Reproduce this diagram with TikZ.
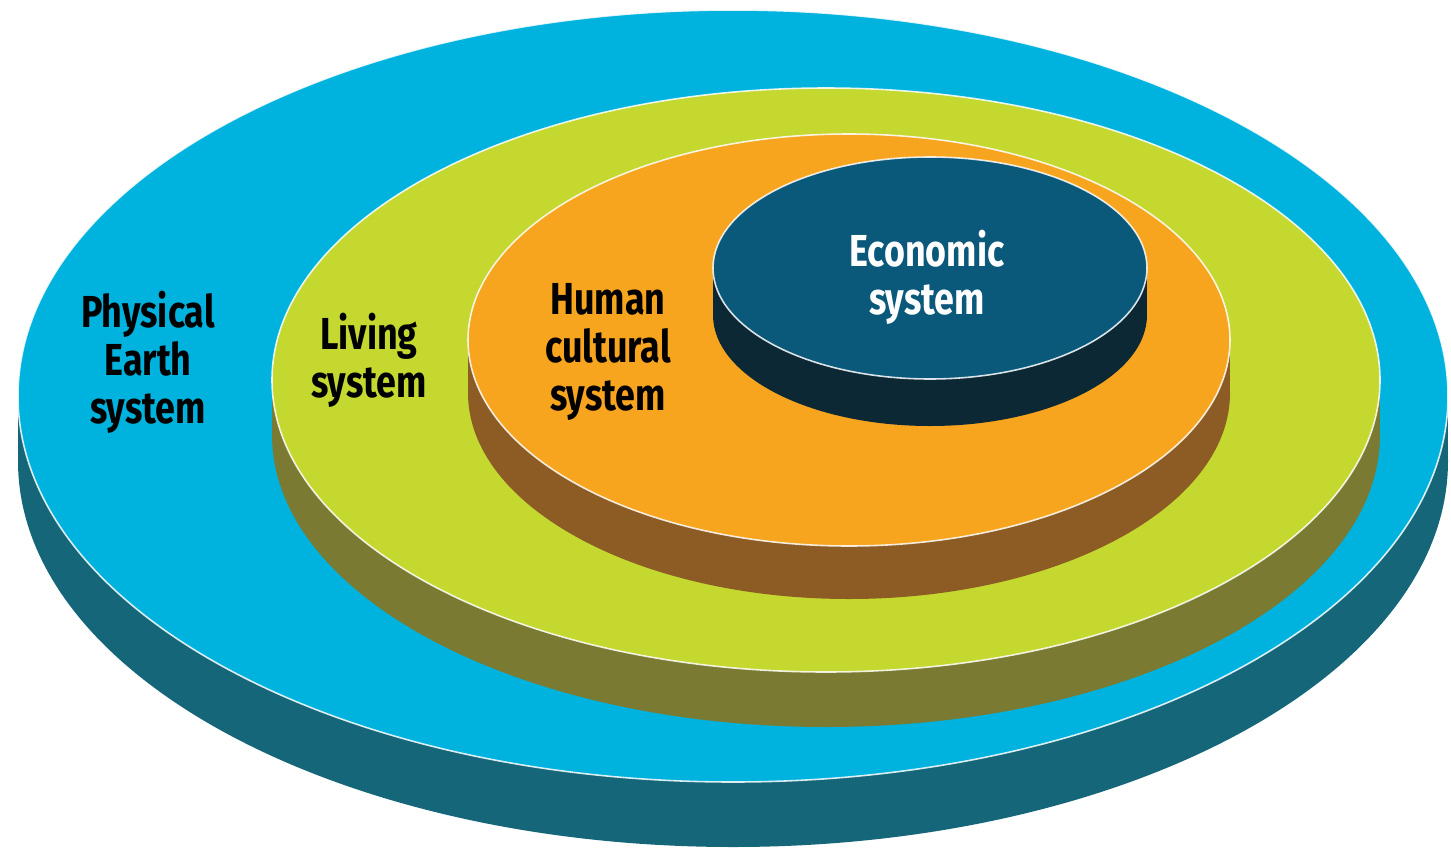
\documentclass[tikz,border=0pt]{standalone}
\usepackage{fontspec}
\setmainfont{Fira Sans}[FakeStretch=0.8]
\definecolor{bluetop}{HTML}{00B2DE}
\definecolor{blueside}{HTML}{16667A}
\definecolor{greentop}{HTML}{C4D830}
\definecolor{greenside}{HTML}{7A7A32}
\definecolor{orangetop}{HTML}{F7A41E}
\definecolor{orangeside}{HTML}{8C5C24}
\definecolor{econtop}{HTML}{0A587A}
\definecolor{econside}{HTML}{0C2834}
\newcommand{\mydisc}[7]{% cx cy rx ry h top side (pixels)
  \fill[#7] (#1,#2+#5) ellipse [x radius=#3*0.02cm, y radius=#4*0.02cm];
  \fill[#7] (#1-#3,#2) rectangle (#1+#3,#2+#5);
  \fill[#6] (#1,#2) ellipse [x radius=#3*0.02cm, y radius=#4*0.02cm];
  \draw[rimline] (#1,#2) ellipse [x radius=#3*0.02cm, y radius=#4*0.02cm];
}
\begin{document}
\begin{tikzpicture}[x=0.02cm,y=-0.02cm,
  rimline/.style={draw=white, opacity=0.85, line width=0.9pt},
  lbl/.style={align=center, font=\fontsize{25.5}{27.3}\selectfont\bfseries, inner sep=0pt},
  darklbl/.style={lbl, text=black},
  lightlbl/.style={lbl, text=white}]
\useasboundingbox (0,0) rectangle (1451,849);
\mydisc{733}{396}{715}{386}{65}{bluetop}{blueside}
\mydisc{826}{380}{554}{292}{55}{greentop}{greenside}
\mydisc{849}{340}{381}{206}{53}{orangetop}{orangeside}
\mydisc{930}{268}{217}{111}{47}{econtop}{econside}
\node[darklbl] (physical) at (148,362) {Physical\\Earth\\system};
\node[darklbl] (living) at (369,360) {Living\\system};
\node[darklbl] (human) at (608,352) {Human\\cultural\\system};
\node[lightlbl] (economic) at (927,277) {Economic\\system};
\end{tikzpicture}
\end{document}
